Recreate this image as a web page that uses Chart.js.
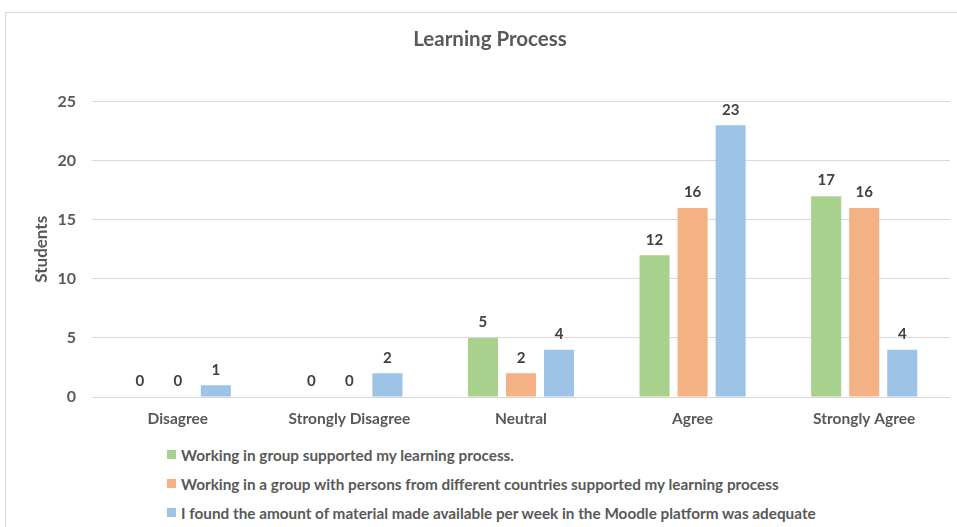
<!DOCTYPE html>
<html>
<head>
<meta charset="utf-8">
<script src="https://cdn.jsdelivr.net/npm/chart.js@4"></script>
<style>
  html, body { margin: 0; padding: 0; background: #fff; overflow: hidden; width: 957px; height: 527px; }
  #frame { position: absolute; left: 5px; top: 12px; width: 1000px; height: 600px; border: 1px solid #d9d9d9; }
  #wrap { position: absolute; left: 0; top: 0; width: 980px; height: 440px; }
  #legend { position: absolute; left: 167px; top: 440px; font: bold 15.3px Lato, sans-serif; color: #595959; }
  #legend div { height: 29px; display: flex; align-items: center; }
  #legend span { display: inline-block; width: 9px; height: 9px; margin-right: 5px; }
</style>
</head>
<body>
<div id="frame"></div>
<div id="wrap"><canvas id="chart"></canvas></div>
<div id="legend"></div>
<script>
// categories and series
const categories = ['Disagree', 'Strongly Disagree', 'Neutral', 'Agree', 'Strongly Agree'];
const seriesNames = [
    'Working in group supported my learning process.',
    'Working in a group with persons from different countries supported my learning process',
    'I found the amount of material made available per week in the Moodle platform was adequate'
];
const groupWork = [0, 0, 5, 12, 17];
const mixedGroupWork = [0, 0, 2, 16, 16];
const materialAmount = [1, 2, 4, 23, 4];
const yTicks = [0, 5, 10, 15, 20, 25];

const colors = ['#A9D18E', '#F4B183', '#9DC3E6'];
const textColor = '#595959';

// bold value labels above each bar
const barLabels = {
    id: 'barLabels',
    afterDatasetsDraw(chart) {
        const ctx = chart.ctx;
        ctx.save();
        ctx.font = 'bold 15px Lato, sans-serif';
        ctx.fillStyle = '#404040';
        ctx.textAlign = 'center';
        ctx.textBaseline = 'bottom';
        chart.data.datasets.forEach((ds, i) => {
            chart.getDatasetMeta(i).data.forEach((bar, j) => {
                ctx.fillText(ds.data[j], bar.x, bar.y - 8);
            });
        });
        ctx.restore();
    }
};

const seriesData = [groupWork, mixedGroupWork, materialAmount];

new Chart(document.getElementById('chart'), {
    type: 'bar',
    data: {
        labels: categories,
        datasets: seriesData.map((d, i) => ({
            label: seriesNames[i],
            data: d,
            backgroundColor: colors[i],
            categoryPercentage: 0.665,
            barPercentage: 0.79
        }))
    },
    options: {
        responsive: true,
        maintainAspectRatio: false,
        animation: false,
        layout: { padding: { left: 5, right: 5, top: 0, bottom: 3 } },
        plugins: {
            legend: { display: false },
            tooltip: { enabled: false },
            title: {
                display: true,
                text: 'Learning Process',
                color: textColor,
                font: { family: 'Lato, sans-serif', size: 20.5, weight: 'bold' },
                padding: { top: 27, bottom: 50 }
            }
        },
        scales: {
            x: {
                grid: { display: false },
                border: { display: false },
                ticks: { color: textColor, font: { family: 'Lato, sans-serif', size: 15.5, weight: 'bold' }, padding: 5 },
                afterFit(scale) { scale.height = 40; }
            },
            y: {
                min: 0,
                max: 25,
                afterBuildTicks(scale) { scale.ticks = yTicks.map(v => ({ value: v })); },
                grid: { color: '#d9d9d9', drawTicks: false },
                border: { display: false },
                ticks: { color: textColor, font: { family: 'Lato, sans-serif', size: 16, weight: 'bold' }, padding: 16 },
                title: {
                    display: true,
                    text: 'Students',
                    color: textColor,
                    font: { family: 'Lato, sans-serif', size: 17, weight: 'bold' },
                    padding: { top: 26, bottom: 0 }
                },
                afterFit(scale) { scale.width = 87; }
            },
            // empty right-hand spacer so the title centres on the frame
            spacer: {
                type: 'linear',
                position: 'right',
                grid: { display: false },
                border: { display: false },
                ticks: { display: false },
                afterFit(scale) { scale.width = 25; }
            }
        }
    },
    plugins: [barLabels]
});

// vertical legend under the plot
const legend = document.getElementById('legend');
seriesNames.forEach((name, i) => {
    const row = document.createElement('div');
    row.innerHTML = '<span style="background:' + colors[i] + '"></span>' + name;
    legend.appendChild(row);
});
</script>
</body>
</html>
